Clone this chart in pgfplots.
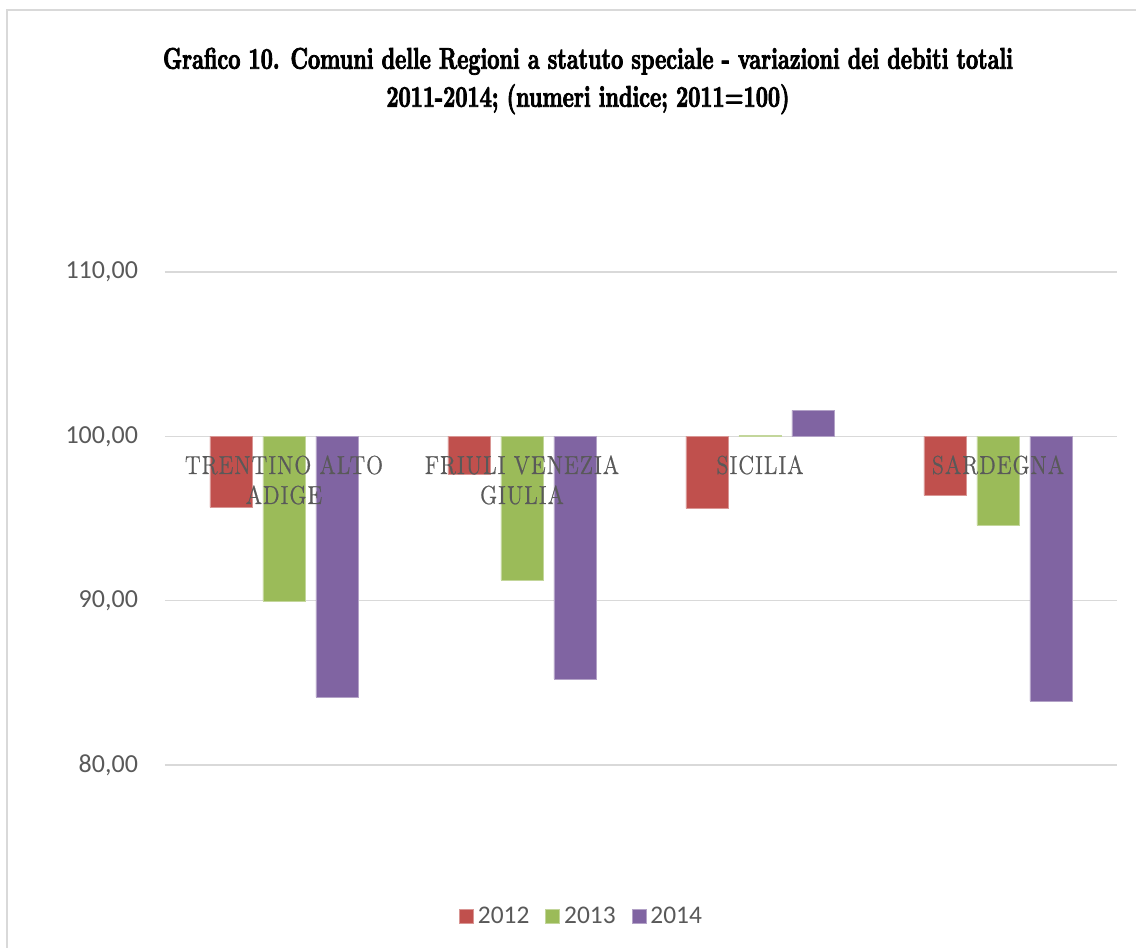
\documentclass[border=0pt]{standalone}
\usepackage{fontspec}
\usepackage{pgfplots}
\usepackage{pgfplotstable}
\pgfplotsset{compat=1.18}
\setmainfont{Latin Modern Roman}
\newfontfamily\calibri{Carlito}
\newfontfamily\catfont[FakeStretch=0.85,LetterSpace=4,FakeBold=0.6]{Latin Modern Roman}
\newfontfamily\titlefont[FakeStretch=0.705,FakeBold=2.5]{lmroman10-bold.otf}
\definecolor{cred}{HTML}{C0504D}
\definecolor{cgreen}{HTML}{9BBB59}
\definecolor{cpurple}{HTML}{8064A2}
\definecolor{txt}{HTML}{595959}
\definecolor{gridc}{HTML}{D9D9D9}
\tikzset{cat/.style={font=\catfont\fontsize{13}{15}\selectfont, text=txt, align=center, anchor=north, yshift=-6pt}}

\pgfplotstableread{
x v2012 v2013 v2014
0 95.68 89.97 84.13
1 97.69 91.25 85.23
2 95.62 100.05 101.58
3 96.41 94.59 83.89
}\datatable

\begin{document}
\begin{tikzpicture}
\path[use as bounding box] (0,0) rectangle (568pt,-474pt);
\draw[gridc, line width=1pt] (3.5pt,-474pt) -- (3.5pt,-5pt) -- (568pt,-5pt);
\node[align=center, font=\titlefont\fontsize{15}{19}\selectfont] at (294pt,-40.5pt)
  {Grafico 10. Comuni delle Regioni a statuto speciale - variazioni dei debiti totali\\2011-2014; (numeri indice; 2011=100)};
\begin{axis}[
  at={(82.5pt,-382.5pt)}, anchor=south west,
  scale only axis, width=476pt, height=246.5pt,
  xmin=-0.5, xmax=3.5, ymin=-20, ymax=10,
  axis x line=middle, axis y line=left,
  axis line style={draw=none},
  major tick length=0pt,
  ybar=5.5pt, bar width=21pt,
  y filter/.expression={y-100},
  ytick={-20,-10,0,10},
  yticklabels={{80,00},{90,00},{100,00},{110,00}},
  ymajorgrids,
  grid style={gridc, line width=0.75pt},
  yticklabel style={font=\calibri\fontsize{13}{15}\selectfont, text=txt, xshift=-10pt},
  xtick={0,1,2,3},
  xticklabels=\empty,
  legend style={at={(0.4386,-0.308)}, anchor=center, draw=none, legend columns=3,
    font=\calibri\fontsize{12.7}{14}\selectfont, text=txt,
    /tikz/every even column/.append style={column sep=6pt},
    /tikz/every odd column/.append style={column sep=0pt}},
  mylegend/.style={legend image code/.code={\fill[##1] (0pt,-3.5pt) rectangle (7pt,3.5pt);}},
]
\addplot[fill=cred, draw=cred!60!white, line width=0.4pt, mylegend] table[x=x, y=v2012] {\datatable};
\addplot[fill=cgreen, draw=cgreen!60!white, line width=0.4pt, mylegend] table[x=x, y=v2013] {\datatable};
\addplot[fill=cpurple, draw=cpurple!60!white, line width=0.4pt, mylegend] table[x=x, y=v2014] {\datatable};
\legend{2012,2013,2014}
\node[cat] at (rel axis cs:0.125,0.66667) {TRENTINO ALTO\\ADIGE};
\node[cat] at (rel axis cs:0.375,0.66667) {FRIULI VENEZIA\\GIULIA};
\node[cat] at (rel axis cs:0.625,0.66667) {SICILIA};
\node[cat] at (rel axis cs:0.875,0.66667) {SARDEGNA};
\end{axis}
\end{tikzpicture}
\end{document}
